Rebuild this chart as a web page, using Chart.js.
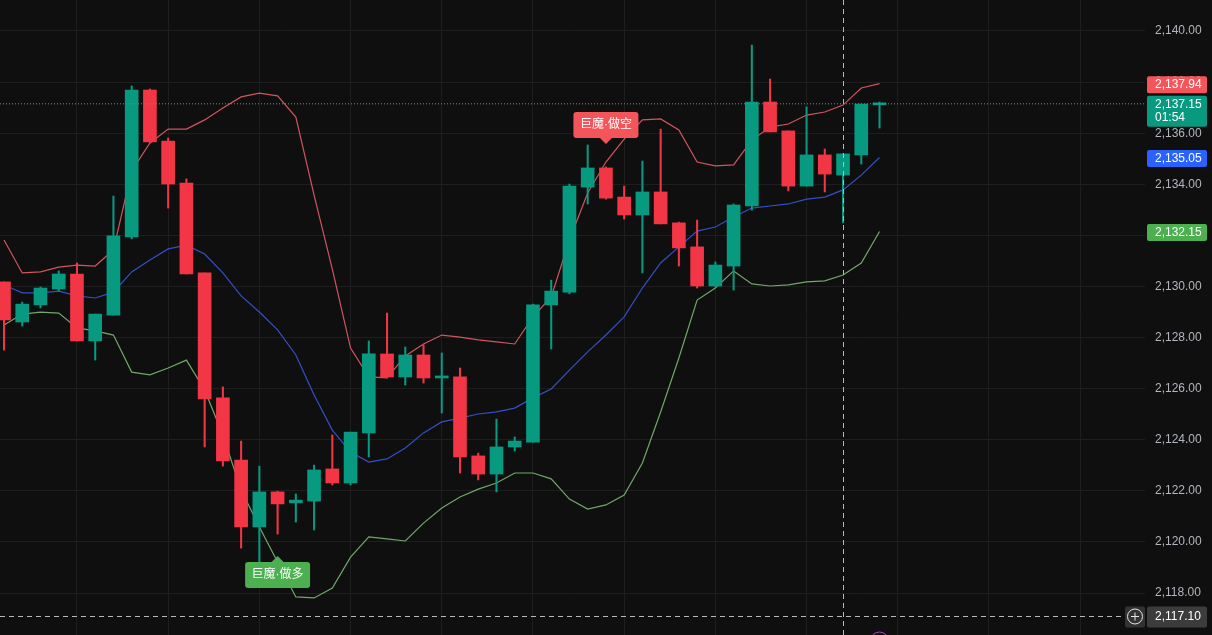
<!DOCTYPE html>
<html>
<head>
<meta charset="utf-8">
<title>K线图</title>
<style>
    html, body { margin: 0; padding: 0; background: #0f0f0f; overflow: hidden; }
    canvas { display: block; }
</style>
<script src="https://cdn.jsdelivr.net/npm/chart.js@4/dist/chart.umd.min.js"></script>
</head>
<body>
<canvas id="klineChart" width="1212" height="635"></canvas>
<script>
// Velas: un valor por vela
const opens = [2130.18, 2128.61, 2129.28, 2129.90, 2130.49, 2127.87, 2128.88, 2131.94, 2137.69, 2135.69,
    2134.05, 2130.53, 2125.64, 2123.21, 2120.59, 2121.96, 2121.53, 2121.60, 2122.86, 2122.31,
    2124.27, 2127.36, 2126.46, 2127.32, 2126.42, 2126.46, 2123.37, 2122.66, 2123.72, 2123.91,
    2129.28, 2129.78, 2133.89, 2134.64, 2133.50, 2132.80, 2133.70, 2132.49, 2131.55, 2130.02,
    2130.80, 2133.15, 2137.22, 2136.09, 2133.93, 2135.15, 2134.36, 2135.15, 2137.11];
const highs = [2130.18, 2129.39, 2129.98, 2130.61, 2130.92, 2128.92, 2133.54, 2137.85, 2137.73, 2135.81,
    2134.21, 2130.53, 2126.07, 2123.95, 2122.97, 2121.99, 2121.88, 2123.01, 2124.19, 2124.30,
    2127.87, 2128.96, 2127.63, 2127.71, 2127.40, 2126.81, 2123.48, 2124.81, 2124.11, 2129.31,
    2130.25, 2134.01, 2135.54, 2134.68, 2133.93, 2134.91, 2136.16, 2132.52, 2132.60, 2130.96,
    2133.23, 2139.45, 2138.12, 2136.09, 2137.03, 2135.38, 2135.19, 2137.14, 2137.22];
const lows = [2127.51, 2128.45, 2129.16, 2129.82, 2127.87, 2127.12, 2128.88, 2131.86, 2135.62, 2133.07,
    2130.49, 2123.72, 2122.97, 2119.76, 2119.22, 2120.31, 2120.78, 2120.47, 2122.23, 2122.23,
    2123.33, 2126.42, 2126.14, 2126.22, 2125.05, 2122.70, 2122.43, 2121.96, 2123.56, 2123.91,
    2127.55, 2129.71, 2133.23, 2133.42, 2132.64, 2130.53, 2132.45, 2130.80, 2129.94, 2129.98,
    2129.86, 2132.99, 2136.05, 2133.74, 2133.93, 2133.70, 2132.49, 2134.79, 2136.20];
const closes = [2128.69, 2129.31, 2129.94, 2130.49, 2127.87, 2128.92, 2131.98, 2137.69, 2135.66, 2134.01,
    2130.49, 2125.60, 2123.17, 2120.59, 2121.96, 2121.49, 2121.64, 2122.82, 2122.31, 2124.30,
    2127.36, 2126.46, 2127.32, 2126.42, 2126.50, 2123.33, 2122.66, 2123.72, 2123.95, 2129.28,
    2129.82, 2133.93, 2134.64, 2133.46, 2132.80, 2133.70, 2132.45, 2131.51, 2130.02, 2130.84,
    2133.19, 2137.22, 2136.05, 2133.93, 2135.15, 2134.40, 2135.19, 2137.14, 2137.15];

// Bandas
const upperBand = [2131.82, 2130.53, 2130.57, 2130.76, 2130.84, 2130.80, 2131.43, 2134.52, 2135.62, 2136.16,
    2136.16, 2136.52, 2136.99, 2137.42, 2137.57, 2137.46, 2136.63, 2133.58, 2130.68, 2127.59,
    2126.46, 2126.42, 2127.28, 2127.75, 2128.10, 2128.02, 2127.91, 2127.83, 2127.75, 2128.81,
    2129.59, 2131.82, 2133.66, 2134.87, 2135.77, 2136.52, 2136.56, 2136.13, 2134.87, 2134.72,
    2134.76, 2135.73, 2136.24, 2136.36, 2136.71, 2136.83, 2137.10, 2137.77, 2137.94];
const middleBand = [2130.06, 2129.75, 2129.75, 2129.82, 2129.63, 2129.55, 2129.78, 2130.57, 2131.04, 2131.47,
    2131.62, 2131.27, 2130.53, 2129.63, 2129.00, 2128.30, 2127.32, 2125.75, 2124.38, 2123.52,
    2123.13, 2123.25, 2123.68, 2124.27, 2124.70, 2124.85, 2125.01, 2125.09, 2125.24, 2125.64,
    2125.99, 2126.73, 2127.44, 2128.10, 2128.81, 2129.94, 2130.92, 2131.55, 2132.17, 2132.33,
    2132.72, 2133.07, 2133.15, 2133.23, 2133.42, 2133.50, 2133.78, 2134.36, 2135.05];
const lowerBand = [2128.49, 2128.92, 2129.00, 2128.96, 2128.38, 2128.26, 2128.10, 2126.65, 2126.54, 2126.81,
    2127.12, 2125.95, 2124.19, 2122.03, 2120.59, 2119.22, 2117.85, 2117.81, 2118.20, 2119.41,
    2120.20, 2120.12, 2120.04, 2120.74, 2121.33, 2121.76, 2122.07, 2122.31, 2122.70, 2122.70,
    2122.47, 2121.68, 2121.29, 2121.45, 2121.84, 2123.09, 2125.09, 2127.20, 2129.47, 2129.94,
    2130.61, 2130.10, 2130.02, 2130.06, 2130.18, 2130.22, 2130.45, 2130.92, 2132.15];

// Ejes
const priceTicks = [2118, 2120, 2122, 2124, 2126, 2128, 2130, 2132, 2134, 2136, 2138, 2140];
const timeTicks = [4, 9, 14, 19, 24, 29, 34, 39, 44, 49, 54, 59];

// Señales y etiquetas
const signalLabels = ['巨魔·做多', '巨魔·做空'];
const signalIndexes = [15, 33];
const signalPrices = [2119.45, 2135.58];
const signalDirections = ['up', 'down'];
const bandTagValues = [2137.94, 2135.05, 2132.15];
const lastPrice = 2137.15;
const countdown = '01:54';
const crosshairIndex = 46;
const crosshairPrice = 2117.10;

const colors = {
    background: '#0f0f0f',
    grid: '#1e1e1e',
    up: '#089981',
    down: '#f23645',
    upper: '#d0555f',
    middle: '#3350c8',
    lower: '#6fa868',
    text: '#b2b5be',
    tagUpper: '#f4555a',
    tagMiddle: '#2962ff',
    tagLower: '#4caf50',
    crosshair: '#b8b8b8'
};

const indexes = closes.map((_, i) => i);
const candleColors = closes.map((c, i) => (c >= opens[i] ? colors.up : colors.down));
const cjkFont = '12px "Liberation Sans", "Noto Sans CJK SC", sans-serif';
const priceFont = '12px "Liberation Sans", Arial, sans-serif';

function formatPrice(value) {
    return value.toLocaleString('en-US', { minimumFractionDigits: 2, maximumFractionDigits: 2 });
}

function lineDataset(values, color) {
    return {
        type: 'line',
        data: indexes.map(i => ({ x: i, y: values[i] })),
        borderColor: color,
        borderWidth: 1.2,
        pointRadius: 0,
        tension: 0,
        order: 3
    };
}

function roundedRect(ctx, x, y, w, h, r, fill) {
    ctx.beginPath();
    ctx.roundRect(x, y, w, h, r);
    ctx.fillStyle = fill;
    ctx.fill();
}

// Etiqueta del eje de precios
function drawPriceTag(ctx, centerY, fill, text) {
    roundedRect(ctx, 1147, centerY - 8.5, 60, 17, 2, fill);
    ctx.fillStyle = '#ffffff';
    ctx.font = priceFont;
    ctx.textAlign = 'left';
    ctx.textBaseline = 'middle';
    ctx.fillText(text, 1155, centerY + 0.5);
}

// Señal de trading con flecha
function drawSignal(ctx, x, y, label, direction) {
    const isUp = direction === 'up';
    const fill = isUp ? colors.tagLower : colors.tagUpper;
    const top = isUp ? y + 6 : y - 32;
    roundedRect(ctx, x - 32.5, top, 65, 26, 3, fill);
    ctx.beginPath();
    ctx.moveTo(x, y);
    ctx.lineTo(x - 7, isUp ? y + 7 : y - 7);
    ctx.lineTo(x + 7, isUp ? y + 7 : y - 7);
    ctx.closePath();
    ctx.fill();
    ctx.fillStyle = '#ffffff';
    ctx.font = cjkFont;
    ctx.textAlign = 'center';
    ctx.textBaseline = 'middle';
    ctx.fillText(label, x, top + 13);
}

const overlayPlugin = {
    id: 'overlay',
    afterDatasetsDraw(chart) {
        const { ctx, chartArea, scales } = chart;
        const xScale = scales.x;
        const yScale = scales.y;
        ctx.save();

        // Línea del último precio
        const lastY = yScale.getPixelForValue(lastPrice);
        ctx.strokeStyle = '#6f8f86';
        ctx.lineWidth = 1;
        ctx.setLineDash([1, 2]);
        ctx.beginPath();
        ctx.moveTo(chartArea.left, lastY);
        ctx.lineTo(chartArea.right, lastY);
        ctx.stroke();

        // Cruz
        const crossX = Math.round(xScale.getPixelForValue(crosshairIndex)) + 0.5;
        const crossY = Math.round(yScale.getPixelForValue(crosshairPrice)) + 0.5;
        ctx.strokeStyle = colors.crosshair;
        ctx.setLineDash([5, 4]);
        ctx.beginPath();
        ctx.moveTo(crossX, chartArea.top);
        ctx.lineTo(crossX, chartArea.bottom);
        ctx.moveTo(chartArea.left, crossY);
        ctx.lineTo(1125, crossY);
        ctx.stroke();
        ctx.setLineDash([]);

        // Señales
        signalLabels.forEach((label, i) => {
            drawSignal(ctx, xScale.getPixelForValue(signalIndexes[i]), yScale.getPixelForValue(signalPrices[i]), label, signalDirections[i]);
        });

        // Etiquetas de las bandas
        const tagFills = [colors.tagUpper, colors.tagMiddle, colors.tagLower];
        bandTagValues.forEach((value, i) => {
            drawPriceTag(ctx, yScale.getPixelForValue(value) + 1, tagFills[i], formatPrice(value));
        });

        // Último precio y cuenta atrás
        roundedRect(ctx, 1147, lastY - 8, 60, 31, 2, colors.up);
        ctx.fillStyle = '#ffffff';
        ctx.font = priceFont;
        ctx.textAlign = 'left';
        ctx.textBaseline = 'middle';
        ctx.fillText(formatPrice(lastPrice), 1155, lastY + 0.5);
        ctx.fillText(countdown, 1155, lastY + 14);

        // Botón y precio de la cruz
        roundedRect(ctx, 1125, crossY - 10, 20, 21, 2, '#333333');
        ctx.strokeStyle = '#e8e8e8';
        ctx.beginPath();
        ctx.arc(1135, crossY, 7.5, 0, Math.PI * 2);
        ctx.moveTo(1131, crossY);
        ctx.lineTo(1139, crossY);
        ctx.moveTo(1135, crossY - 4);
        ctx.lineTo(1135, crossY + 4);
        ctx.stroke();
        roundedRect(ctx, 1147, crossY - 10, 60, 21, 2, '#3c3c3c');
        ctx.fillStyle = '#ffffff';
        ctx.fillText(formatPrice(crosshairPrice), 1155, crossY + 0.5);

        // Círculo de evento en el borde inferior
        ctx.strokeStyle = '#a24bb5';
        ctx.beginPath();
        ctx.arc(xScale.getPixelForValue(48), chartArea.bottom + 6, 9, 0, Math.PI * 2);
        ctx.stroke();

        ctx.restore();
    }
};

new Chart(document.getElementById('klineChart'), {
    type: 'bar',
    data: {
        datasets: [
            lineDataset(upperBand, colors.upper),
            lineDataset(middleBand, colors.middle),
            lineDataset(lowerBand, colors.lower),
            {
                data: indexes.map(i => ({ x: i, y: [lows[i], highs[i]] })),
                backgroundColor: candleColors,
                barThickness: 1.4,
                grouped: false,
                order: 2
            },
            {
                data: indexes.map(i => ({ x: i, y: [opens[i], closes[i]] })),
                backgroundColor: candleColors,
                barThickness: 13,
                minBarLength: 2,
                grouped: false,
                order: 1
            }
        ]
    },
    options: {
        responsive: false,
        animation: false,
        events: [],
        layout: { padding: 0 },
        plugins: {
            legend: { display: false },
            tooltip: { enabled: false }
        },
        scales: {
            x: {
                type: 'linear',
                offset: false,
                min: -0.2193,
                max: 62.555,
                border: { display: false },
                grid: { color: colors.grid, drawTicks: false, offset: false },
                ticks: { display: false },
                afterBuildTicks: scale => {
                    scale.ticks = timeTicks.map(value => ({ value }));
                },
                afterFit: scale => {
                    scale.height = 0;
                    scale.paddingLeft = 0;
                    scale.paddingRight = 0;
                }
            },
            y: {
                position: 'right',
                min: 2116.36,
                max: 2141.213,
                border: { display: false },
                grid: { color: colors.grid, drawTicks: false },
                ticks: {
                    color: colors.text,
                    padding: 10,
                    maxRotation: 0,
                    autoSkip: false,
                    font: { family: '"Liberation Sans", Arial, sans-serif', size: 12 },
                    callback: value => formatPrice(value)
                },
                afterBuildTicks: scale => {
                    scale.ticks = priceTicks.map(value => ({ value }));
                },
                afterFit: scale => {
                    scale.width = 67;
                    scale.paddingTop = 0;
                    scale.paddingBottom = 0;
                }
            }
        }
    },
    plugins: [
        {
            id: 'background',
            beforeDraw(chart) {
                chart.ctx.fillStyle = colors.background;
                chart.ctx.fillRect(0, 0, chart.width, chart.height);
            }
        },
        overlayPlugin
    ]
});
</script>
</body>
</html>
